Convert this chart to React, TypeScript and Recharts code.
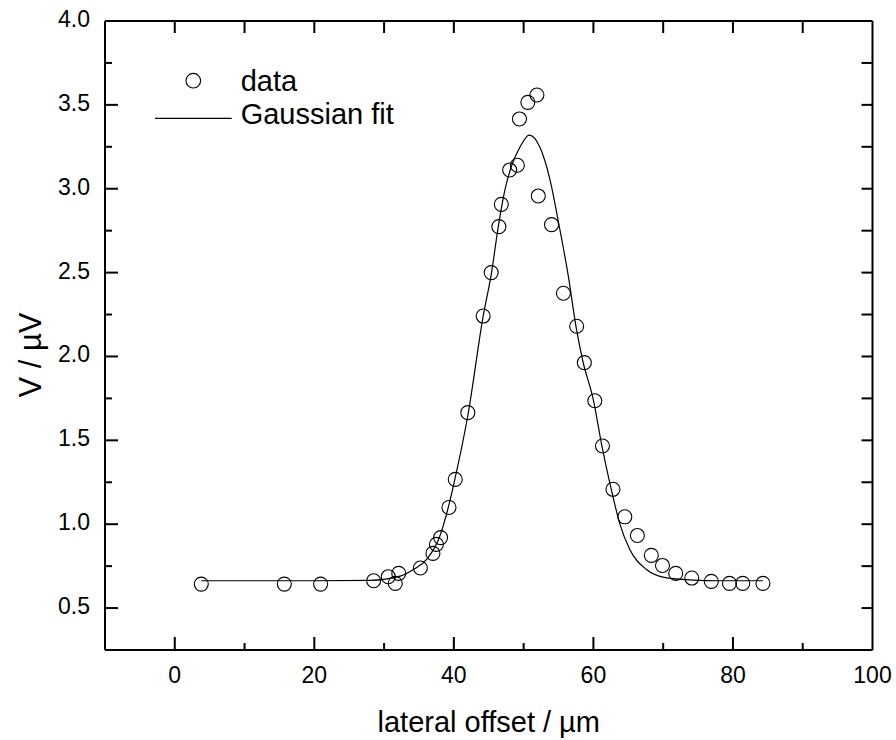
import React from "react";
import { ComposedChart, XAxis, YAxis, Line, Scatter, ReferenceLine } from "recharts";

// measured data points (lateral offset in µm, voltage in µV)
const dataX = [3.8, 15.7, 20.9, 28.5, 30.6, 31.6, 32.1, 35.2, 37.0, 37.5, 38.1, 39.3, 40.2, 42.0, 44.2, 45.35, 46.45, 46.8, 48.0, 49.1, 49.4, 50.6, 51.9, 52.1, 54.0, 55.7, 57.6, 58.7, 60.2, 61.3, 62.8, 64.5, 66.3, 68.3, 69.9, 71.8, 74.1, 76.9, 79.5, 81.4, 84.3];
const dataY = [0.643, 0.643, 0.643, 0.663, 0.687, 0.647, 0.707, 0.739, 0.826, 0.88, 0.92, 1.1, 1.267, 1.665, 2.241, 2.5, 2.774, 2.907, 3.112, 3.14, 3.416, 3.515, 3.559, 2.957, 2.786, 2.377, 2.18, 1.963, 1.736, 1.466, 1.208, 1.044, 0.933, 0.814, 0.754, 0.707, 0.679, 0.659, 0.647, 0.647, 0.647];

// Gaussian fit curve
const fitX = [3.8, 20, 28, 32.3, 34.2, 36.1, 38.0, 39.2, 40.1, 42.05, 44.2, 45.4, 46.35, 47.3, 48.3, 49.5, 50.8, 52.3, 53.8, 54.95, 56.4, 57.5, 58.5, 60.0, 61.2, 62.6, 63.8, 65.2, 67.6, 70.5, 74.3, 78, 84.3];
const fitY = [0.663, 0.663, 0.665, 0.69, 0.73, 0.79, 0.93, 1.1, 1.26, 1.66, 2.24, 2.5, 2.77, 2.99, 3.14, 3.25, 3.32, 3.25, 3.05, 2.81, 2.48, 2.18, 1.97, 1.74, 1.47, 1.2, 1.0, 0.85, 0.73, 0.68, 0.667, 0.663, 0.663];

const xMajorTicks = [0, 20, 40, 60, 80, 100];
const xMinorTicks = [10, 30, 50, 70, 90];
const yMajorTicks = [0.5, 1.0, 1.5, 2.0, 2.5, 3.0, 3.5, 4.0];
const yMinorTicks = [0.75, 1.25, 1.75, 2.25, 2.75, 3.25, 3.75];

const xTitle = "lateral offset / µm";
const yTitle = "V / µV";
const legendData = "data";
const legendFit = "Gaussian fit";

const scatterData = dataX.map((x, i) => ({ x, y: dataY[i] }));
const fitData = fitX.map((x, i) => ({ x, y: fitY[i] }));

const FONT = "'Liberation Sans', Arial, Helvetica, sans-serif";
const W = 896;
const H = 740;
const M = { top: 21, right: 23.5, bottom: 89, left: 104 };
const X_MIN = -10;
const X_MAX = 100;
const Y_MIN = 0.25;
const Y_MAX = 4;

// tick marks placed through the chart scales; dx/dy = inward direction in px
const tickMarks = [
  ...xMajorTicks.filter((v) => v < X_MAX).map((v) => ({ x: v, y: Y_MIN, dx: 0, dy: -13 })),
  ...xMinorTicks.map((v) => ({ x: v, y: Y_MIN, dx: 0, dy: -7 })),
  ...[...xMajorTicks, ...xMinorTicks].filter((v) => v < X_MAX).map((v) => ({ x: v, y: Y_MAX, dx: 0, dy: 12 })),
  ...yMajorTicks.map((v) => ({ x: X_MIN, y: v, dx: 13, dy: 0 })),
  ...yMinorTicks.map((v) => ({ x: X_MIN, y: v, dx: 7, dy: 0 })),
  ...[...yMajorTicks, ...yMinorTicks].filter((v) => v < Y_MAX).map((v) => ({ x: X_MAX, y: v, dx: -11, dy: 0 })),
];

const BottomLabel = (props: any) => {
  const { x, y, payload } = props;
  return (
    <text x={x} y={y + 33} textAnchor="middle" fontSize={23} fontFamily={FONT} fill="#000">
      {payload.value}
    </text>
  );
};

const LeftLabel = (props: any) => {
  const { x, y, payload } = props;
  return (
    <text x={x - 15} y={y + 6} textAnchor="end" fontSize={23} fontFamily={FONT} fill="#000">
      {Number(payload.value).toFixed(1)}
    </text>
  );
};

const Ring = (props: any) => {
  const { cx, cy } = props;
  return <circle cx={cx} cy={cy} r={7} fill="none" stroke="#000" strokeWidth={1.1} />;
};

const TickMark = (props: any) => {
  const { cx, cy, payload } = props;
  const dx = payload ? payload.dx : 0;
  const dy = payload ? payload.dy : 0;
  return <line x1={cx} y1={cy} x2={cx + dx} y2={cy + dy} stroke="#000" strokeWidth={2} />;
};

export default function App() {
  return (
    <div style={{ position: "absolute", left: 0, top: 0, width: W, height: H }}>
      <ComposedChart width={W} height={H} margin={M}>
        <XAxis
          dataKey="x"
          type="number"
          domain={[X_MIN, X_MAX]}
          ticks={xMajorTicks}
          interval={0}
          height={1}
          tickSize={0}
          tickMargin={0}
          tickLine={false}
          axisLine={{ stroke: "#000", strokeWidth: 2 }}
          tick={<BottomLabel />}
        />
        <YAxis
          type="number"
          domain={[Y_MIN, Y_MAX]}
          ticks={yMajorTicks}
          interval={0}
          width={1}
          tickSize={0}
          tickMargin={0}
          tickLine={false}
          axisLine={{ stroke: "#000", strokeWidth: 2 }}
          tick={<LeftLabel />}
        />
        <ReferenceLine y={Y_MAX} stroke="#000" strokeWidth={2} />
        <ReferenceLine x={X_MAX} stroke="#000" strokeWidth={2} />
        <Scatter data={tickMarks} dataKey="y" shape={<TickMark />} isAnimationActive={false} />
        <Line
          data={fitData}
          dataKey="y"
          type="monotone"
          stroke="#000"
          strokeWidth={1.2}
          dot={false}
          isAnimationActive={false}
        />
        <Scatter data={scatterData} dataKey="y" shape={<Ring />} isAnimationActive={false} />
      </ComposedChart>
      <svg
        width={W}
        height={H}
        style={{ position: "absolute", left: 0, top: 0, pointerEvents: "none" }}
      >
        <circle cx={193.3} cy={80.7} r={7.3} fill="none" stroke="#000" strokeWidth={1.1} />
        <text x={240.7} y={90.7} fontSize={29} fontFamily={FONT} fill="#000">
          {legendData}
        </text>
        <line x1={155} x2={231.7} y1={118.3} y2={118.3} stroke="#000" strokeWidth={1.2} />
        <text x={240.7} y={123.5} fontSize={29} fontFamily={FONT} fill="#000">
          {legendFit}
        </text>
        <text x={488.75} y={732} textAnchor="middle" fontSize={29} fontFamily={FONT} fill="#000">
          {xTitle}
        </text>
        <text
          x={0}
          y={0}
          transform="translate(41,355) rotate(-90)"
          textAnchor="middle"
          fontSize={31}
          fontFamily={FONT}
          fill="#000"
        >
          {yTitle}
        </text>
      </svg>
    </div>
  );
}
